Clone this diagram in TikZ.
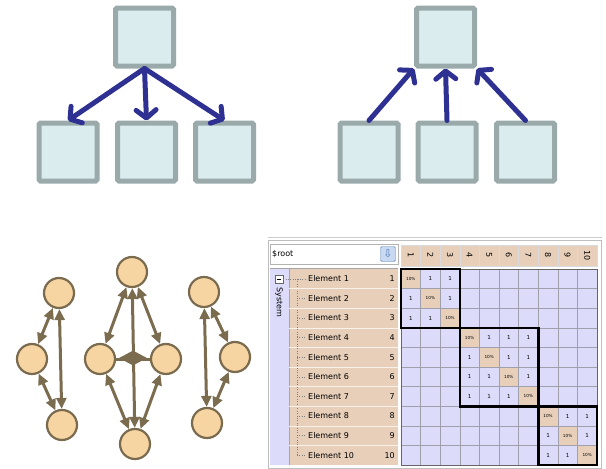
\documentclass[tikz,border=0pt]{standalone}
\usepackage{fontspec}
\newfontfamily\dsmfont{DejaVu Sans}
\usetikzlibrary{arrows.meta, shapes.geometric, positioning}
\definecolor{boxfill}{HTML}{DAECEE}
\definecolor{boxline}{HTML}{9AAAAA}
\definecolor{treearrow}{HTML}{2E3192}
\definecolor{nodefill}{HTML}{F6D5A3}
\definecolor{nodeline}{HTML}{7A6A4E}
\definecolor{edgecol}{HTML}{7B6C50}
\definecolor{dsmtan}{HTML}{E8CFB9}
\definecolor{dsmcell}{HTML}{DCDCFA}
\definecolor{dsmgrid}{HTML}{A0A0AC}
\definecolor{btnfill}{HTML}{C9D9F2}
\definecolor{btnline}{HTML}{5A7DB5}

\begin{document}
\begin{tikzpicture}[x=1pt, y=-1pt, >=Stealth,
  treebox/.style={draw=boxline, fill=boxfill, line width=5pt, rounded corners=1.5pt, minimum size=58pt, inner sep=0pt},
  treelink/.style={treearrow, line width=5pt, line cap=round, -{Straight Barb[length=8pt, width=20pt, round]}},
  gnode/.style={circle, draw=nodeline, fill=nodefill, line width=2.2pt, minimum size=30pt, inner sep=0pt},
  glink/.style={edgecol, line width=3pt, {Triangle[length=11pt, width=10pt]}-{Triangle[length=11pt, width=10pt]}},
  dsmtext/.style={font=\dsmfont\fontsize{8}{9}\selectfont, inner sep=0pt},
  celltext/.style={font=\dsmfont\fontsize{5.5}{6}\selectfont, inner sep=0pt},
  pcttext/.style={font=\dsmfont\fontsize{4.2}{5}\selectfont, inner sep=0pt}]
  \useasboundingbox (0,0) rectangle (606,469);

  % top left: one parent to three children
  \node[treebox] (ta) at (144.5,37) {};
  \node[treebox] (ta1) at (68,152) {};
  \node[treebox] (ta2) at (146.5,152) {};
  \node[treebox] (ta3) at (224.5,152) {};
  \foreach \k in {1,2,3}
    \draw[treelink] (ta.south) -- (ta\k.north);

  % top right: three children to one parent
  \node[treebox] (tb) at (445.5,37) {};
  \node[treebox] (tb1) at (369,152) {};
  \node[treebox] (tb2) at (447,152) {};
  \node[treebox] (tb3) at (525.5,152) {};
  \draw[treelink] (tb1.north) -- (tb.south west);
  \draw[treelink] (tb2.north) -- (tb.south);
  \draw[treelink] (tb3.north) -- (tb.south east);

  % bottom left: three clusters
  \node[gnode] (ga) at (59,293) {};
  \node[gnode] (gb) at (32,359) {};
  \node[gnode] (gc) at (62,425) {};
  \node[gnode] (gd) at (132,272) {};
  \node[gnode] (ge) at (100,359) {};
  \node[gnode] (gf) at (166,359) {};
  \node[gnode] (gg) at (135,444) {};
  \node[gnode] (gh) at (204,292) {};
  \node[gnode] (gi) at (235,357) {};
  \node[gnode] (gj) at (207,423) {};
  \draw[edgecol, line width=3pt] (ge) -- (gf);
  \foreach \u/\v in {ga/gb, gb/gc, ga/gc, gd/ge, gd/gf, gd/gg, ge/gg, gf/gg, gh/gi, gi/gj, gh/gj}
    \draw[glink] (\u) -- (\v);
  \node[diamond, fill=edgecol, minimum width=28pt, minimum height=15pt, inner sep=0pt] (gm) at (133,358) {};

  % bottom right: DSM panel
  \draw[gray!40] (268,237.5) -- (602,237.5);
  \draw[gray!50] (268.5,240) rectangle (601,468);
  \node[draw=gray!60, fill=white, minimum width=128pt, minimum height=20pt, inner sep=0pt] (root) at (334,254) {};
  \node[dsmtext, anchor=west] (rootlbl) at (272,254) {\$root};
  \node[draw=btnline, fill=btnfill, rounded corners=1.5pt, minimum size=15pt, inner sep=0pt] (btn) at (388,254) {};
  \node[font=\dsmfont\fontsize{11}{11}\selectfont, text=btnline, inner sep=0pt] at (btn) {⇩};
  % system column and row labels
  \fill[dsmcell] (270,269) rectangle (289,465);
  \fill[dsmtan] (289,269) rectangle (398,465);
  \draw[gray!70] (289,269) -- (289,465);
  \draw[gray!70] (270,268.5) -- (398,268.5);
  \node[draw=gray!80!black, fill=white, minimum size=8pt, inner sep=0pt] (sysbox) at (279,278.8) {};
  \draw[line width=0.6pt] (277,278.8) -- (281,278.8);
  \node[dsmtext, rotate=-90, anchor=west] (syslbl) at (279,287) {System};
  \draw[gray, dotted] (sysbox.east) -- (306,278.8);
  \draw[gray, dotted] (297,278.8) -- (297,455.2);
  \foreach \i in {1,...,10} {
    \pgfmathsetmacro\ry{269+(\i-0.5)*19.6}
    \ifnum\i>1
      \draw[white!70!dsmtan] (289,\ry-9.8) -- (398,\ry-9.8);
      \draw[gray, dotted] (297,\ry) -- (306,\ry);
    \fi
    \node[dsmtext, anchor=west] (el\i) at (308,\ry) {Element \i};
    \node[dsmtext, anchor=east] (nr\i) at (395,\ry) {\i};
  }
  % column header
  \fill[dsmtan] (401,245) rectangle (597,266);
  \foreach \j in {0,...,10}
    \draw[white!60!dsmgrid] (401+\j*19.6,245) -- (401+\j*19.6,266);
  \draw[white!60!dsmgrid] (401,245) rectangle (597,266);
  \foreach \j in {1,...,10}
    \node[dsmtext, rotate=-90] (hd\j) at (401+\j*19.6-9.8,255.5) {\j};
  % matrix cells
  \fill[dsmcell] (401,269) rectangle (597,465);
  \foreach \i in {1,...,10}
    \fill[dsmtan] (401+\i*19.6-19.6,269+\i*19.6-19.6) rectangle ++(19.6,19.6);
  \foreach \j in {0,...,10} {
    \draw[dsmgrid] (401+\j*19.6,269) -- (401+\j*19.6,465);
    \draw[dsmgrid] (401,269+\j*19.6) -- (597,269+\j*19.6);
  }
  \draw[gray!80!black] (401,269) rectangle (597,465);
  \foreach \a/\b in {1/3, 4/7, 8/10} {
    \foreach \i in {\a,...,\b}
      \foreach \j in {\a,...,\b} {
        \ifnum\i=\j
          \node[pcttext] (c\i-\j) at (401+\j*19.6-9.8,269+\i*19.6-9.8) {10\%};
        \else
          \node[celltext] (c\i-\j) at (401+\j*19.6-9.8,269+\i*19.6-9.8) {1};
        \fi
      }
    \draw[line width=2.6pt] (401+\a*19.6-19.6,269+\a*19.6-19.6) rectangle (401+\b*19.6,269+\b*19.6);
  }
\end{tikzpicture}
\end{document}
